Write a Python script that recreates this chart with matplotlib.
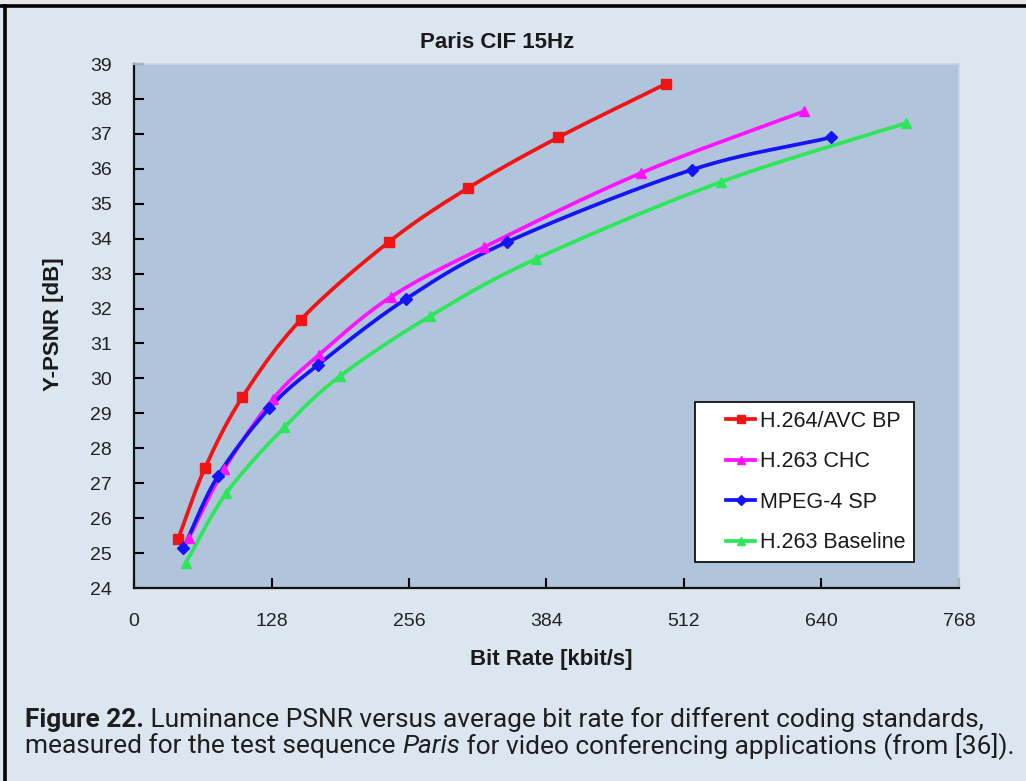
import numpy as np
import matplotlib
matplotlib.use("Agg")
import matplotlib.pyplot as plt
from matplotlib.legend_handler import HandlerLine2D
from matplotlib.patches import Rectangle
from matplotlib.lines import Line2D

# data (bit rate kbit/s, Y-PSNR dB)
h264_rate = [41, 66, 101, 155, 237, 311, 395, 495]
h264_psnr = [25.40, 27.43, 29.47, 31.67, 33.90, 35.45, 36.90, 38.43]
chc_rate = [51, 84, 129, 172, 239, 326, 472, 624]
chc_psnr = [25.43, 27.40, 29.40, 30.67, 32.33, 33.76, 35.88, 37.65]
mpeg4_rate = [46, 78, 126, 171, 253, 347, 519, 649]
mpeg4_psnr = [25.14, 27.20, 29.15, 30.38, 32.27, 33.90, 35.97, 36.90]
base_rate = [48, 86, 140, 192, 276, 374, 546, 719]
base_psnr = [24.71, 26.72, 28.60, 30.07, 31.79, 33.42, 35.62, 37.31]

labels = ["H.264/AVC BP", "H.263 CHC", "MPEG-4 SP", "H.263 Baseline"]
x_ticks = [0, 128, 256, 384, 512, 640, 768]
y_ticks = list(range(24, 40))

series = [
    (h264_rate, h264_psnr, "#f01414", "s", 7.5),
    (chc_rate, chc_psnr, "#ff14ff", "^", 7.5),
    (mpeg4_rate, mpeg4_psnr, "#1414f5", "D", 6),
    (base_rate, base_psnr, "#2ee65a", "^", 6.5),
]


def smooth(xs, ys, xr=768.0, yr=15.0, n=24):
    # catmull-rom through the points, like the spreadsheet smoothing
    p = np.column_stack([np.asarray(xs) / xr, np.asarray(ys) / yr])
    p = np.vstack([2 * p[0] - p[1], p, 2 * p[-1] - p[-2]])
    out = []
    t = np.linspace(0, 1, n, endpoint=False)[:, None]
    for i in range(1, len(p) - 2):
        p0, p1, p2, p3 = p[i - 1], p[i], p[i + 1], p[i + 2]
        seg = 0.5 * ((2 * p1) + (-p0 + p2) * t + (2 * p0 - 5 * p1 + 4 * p2 - p3) * t ** 2
                     + (-p0 + 3 * p1 - 3 * p2 + p3) * t ** 3)
        out.append(seg)
    out.append(p[-2][None, :])
    out = np.vstack(out)
    return out[:, 0] * xr, out[:, 1] * yr


class ShortHandler(HandlerLine2D):
    def get_xdata(self, legend, xdescent, ydescent, width, height, fontsize):
        x0 = -xdescent + width * 0.44
        x1 = -xdescent + width
        return np.array([x0, x1]), np.array([(x0 + x1) / 2])


W, H = 1026, 781
fig = plt.figure(figsize=(W / 100, H / 100), dpi=100)
fig.patch.set_facecolor("#dce6f0")
sans = ["Liberation Sans", "DejaVu Sans"]
plt.rcParams["font.family"] = sans

# outer frame lines (top and left) plus the pale strip above
fig.patches.append(Rectangle((0, 1 - 4 / H), 1, 4 / H, transform=fig.transFigure,
                             facecolor="#e6e6e6", edgecolor="none", zorder=0))
fig.add_artist(Line2D([0, 1], [1 - 6 / H, 1 - 6 / H], transform=fig.transFigure,
                      color="black", lw=2.6))
fig.add_artist(Line2D([5 / W, 5 / W], [0, 1 - 6 / H], transform=fig.transFigure,
                      color="black", lw=2.6))

ax = fig.add_axes([134 / W, 1 - 588 / H, (959 - 134) / W, (588 - 64) / H])
ax.set_facecolor("#b0c5db")

handles = []
for (xs, ys, col, mk, ms), lab in zip(series, labels):
    sx, sy = smooth(xs, ys)
    ax.plot(sx, sy, color=col, lw=2.7, zorder=3)
    ax.plot(xs, ys, ls="none", marker=mk, color=col, ms=ms, zorder=4)
    handles.append(Line2D([], [], color=col, lw=2.7, marker=mk, ms=ms * 0.8, label=lab))

ax.set_xlim(0, 768)
ax.set_ylim(24, 39)
ax.set_xticks(x_ticks)
ax.set_yticks(y_ticks)
ax.tick_params(direction="in", length=7, width=1.5, labelsize=14,
               colors="black", labelcolor="#222222")
ax.tick_params(axis="y", pad=16)
ax.tick_params(axis="x", pad=18)
for s in ["left", "bottom"]:
    ax.spines[s].set_linewidth(1.6)
    ax.spines[s].set_color("#111111")
for s in ["top", "right"]:
    ax.spines[s].set_linewidth(1.2)
    ax.spines[s].set_color("#c8d7e7")

fig.text(497 / W, 1 - 42 / H, "Paris CIF 15Hz", ha="center", va="center",
         fontsize=16, fontweight="bold", color="#1a1a1a")
fig.text(53 / W, 1 - 324 / H, "Y-PSNR [dB]", ha="center", va="center", rotation=90,
         fontsize=16, fontweight="bold", color="#1a1a1a")
fig.text(551 / W, 1 - 660 / H, "Bit Rate [kbit/s]", ha="center", va="center",
         fontsize=16, fontweight="bold", color="#1a1a1a")

leg = ax.legend(handles=handles, loc="upper left",
                bbox_to_anchor=(695 / W, 1 - 402 / H), bbox_transform=fig.transFigure,
                borderaxespad=0, fontsize=15.5, frameon=True, fancybox=False,
                edgecolor="black", facecolor="white", framealpha=1,
                borderpad=0.4, labelspacing=0.91, handlelength=2.4, handletextpad=0.2,
                handler_map={Line2D: ShortHandler()})
leg.get_frame().set_linewidth(1.2)
for t in leg.get_texts():
    t.set_color("#1a1a1a")

# caption
cap_family = ["Roboto", "DejaVu Sans"]
renderer = fig.canvas.get_renderer()
line1 = [("Figure 22.", {"fontweight": "bold"}),
         (" Luminance PSNR versus average bit rate for different coding standards,", {})]
line2 = [("measured for the test sequence ", {}), ("Paris", {"style": "italic"}),
         (" for video conferencing applications (from [36]).", {})]


def runs(y, parts, size, draw=True):
    x = 25 / W
    made = []
    for txt, kw in parts:
        t = fig.text(x, y, txt, fontsize=size, family=cap_family, color="#1e1e1e",
                     va="baseline", **kw)
        bb = t.get_window_extent(renderer)
        x += bb.width / W
        made.append(t)
    if not draw:
        for t in made:
            t.remove()
    return x * W - 25


# fit the caption into the width it has in the original
w1 = runs(0.5, line1, 10, draw=False)
w2 = runs(0.5, line2, 10, draw=False)
cap_size = 10 * (1018 - 25) / max(w1, w2)
runs(1 - 727 / H, line1, cap_size)
runs(1 - 753 / H, line2, cap_size)

fig.savefig("out.png", dpi=100, facecolor=fig.get_facecolor())
